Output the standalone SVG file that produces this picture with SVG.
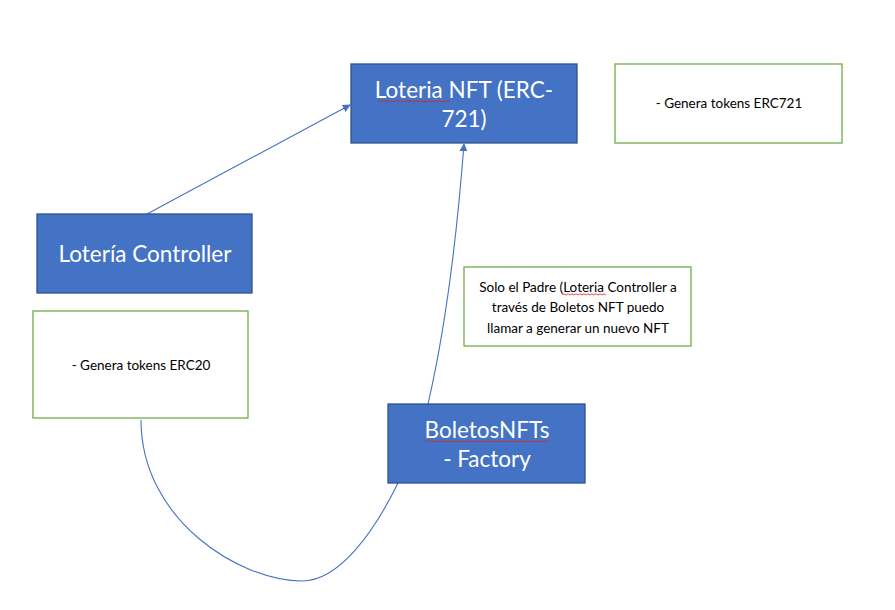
<svg xmlns="http://www.w3.org/2000/svg" width="895" height="610" viewBox="0 0 895 610">
<style>
.node{fill:#4472C4;stroke:#2F528F;stroke-width:1.3}
.note{fill:#FFFFFF;stroke:#70AD47;stroke-width:1.3}
.big{font-family:Lato,"Liberation Sans",sans-serif;font-size:22.5px;fill:#FFFFFF;text-anchor:middle}
.small{font-family:Lato,"Liberation Sans",sans-serif;font-size:13.5px;fill:#000000;text-anchor:middle}
.conn{fill:none;stroke:#4472C4;stroke-width:1.1}
.sq{fill:none;stroke:#E02020;stroke-width:0.8}
</style>
<defs>
<marker id="arr" viewBox="0 0 10 10" refX="9" refY="5" markerWidth="8" markerHeight="8" markerUnits="userSpaceOnUse" orient="auto">
<path d="M0,0 L10,5 L0,10 z" fill="#4472C4"/>
</marker>
</defs>
<rect width="895" height="610" fill="#FFFFFF"/>
<g id="connectors">
<path class="conn" d="M147,214 L350,105" marker-end="url(#arr)"/>
<path class="conn" d="M428,404 Q452,300 464,144" marker-end="url(#arr)"/>
<path class="conn" d="M141,420 C141,520 240,581 302,581 C340,581 375,530 398,483"/>
</g>
<g id="loteria-nft">
<rect class="node" x="351" y="64" width="226" height="79"/>
<text class="big" x="464" y="98">Loteria NFT (ERC-</text>
<text class="big" x="464" y="127">721)</text>
<path class="sq" d="M378,102 l2,-1.5 2,1.5 2,-1.5 2,1.5 2,-1.5 2,1.5 2,-1.5 2,1.5 2,-1.5 2,1.5 2,-1.5 2,1.5 2,-1.5 2,1.5 2,-1.5 2,1.5 2,-1.5 2,1.5 2,-1.5 2,1.5 2,-1.5 2,1.5 2,-1.5 2,1.5 2,-1.5 2,1.5 2,-1.5 2,1.5 2,-1.5 2,1.5 2,-1.5 2,1.5 2,-1.5 2,1.5 2,-1.5 2,1.5"/>
</g>
<g id="erc721-note">
<rect class="note" x="615" y="64" width="227" height="79"/>
<text class="small" x="729" y="108">- Genera tokens ERC721</text>
</g>
<g id="loteria-controller">
<rect class="node" x="37" y="214" width="215" height="79"/>
<text class="big" x="145" y="262">Lotería Controller</text>
</g>
<g id="erc20-note">
<rect class="note" x="33" y="311" width="215" height="107"/>
<text class="small" x="141" y="370">- Genera tokens ERC20</text>
</g>
<g id="padre-note">
<rect class="note" x="464" y="267" width="227" height="79"/>
<text class="small" x="578" y="292">Solo el Padre (Loteria Controller a</text>
<text class="small" x="578" y="312">través de Boletos NFT puedo</text>
<text class="small" x="578" y="333">llamar a generar un nuevo NFT</text>
<path class="sq" d="M562,295 l2,-1.2 2,1.2 2,-1.2 2,1.2 2,-1.2 2,1.2 2,-1.2 2,1.2 2,-1.2 2,1.2 2,-1.2 2,1.2 2,-1.2 2,1.2 2,-1.2 2,1.2 2,-1.2 2,1.2 2,-1.2 2,1.2 2,-1.2 2,1.2"/>
</g>
<g id="boletos-nfts">
<rect class="node" x="388" y="404" width="197" height="79"/>
<text class="big" x="487" y="438">BoletosNFTs</text>
<text class="big" x="487" y="467">- Factory</text>
<path class="sq" d="M425,442 l2,-1.5 2,1.5 2,-1.5 2,1.5 2,-1.5 2,1.5 2,-1.5 2,1.5 2,-1.5 2,1.5 2,-1.5 2,1.5 2,-1.5 2,1.5 2,-1.5 2,1.5 2,-1.5 2,1.5 2,-1.5 2,1.5 2,-1.5 2,1.5 2,-1.5 2,1.5 2,-1.5 2,1.5 2,-1.5 2,1.5 2,-1.5 2,1.5 2,-1.5 2,1.5 2,-1.5 2,1.5 2,-1.5 2,1.5 2,-1.5 2,1.5 2,-1.5 2,1.5 2,-1.5 2,1.5 2,-1.5 2,1.5 2,-1.5 2,1.5 2,-1.5 2,1.5 2,-1.5 2,1.5 2,-1.5 2,1.5 2,-1.5 2,1.5 2,-1.5 2,1.5 2,-1.5 2,1.5 2,-1.5 2,1.5 2,-1.5 2,1.5"/>
</g>
</svg>
